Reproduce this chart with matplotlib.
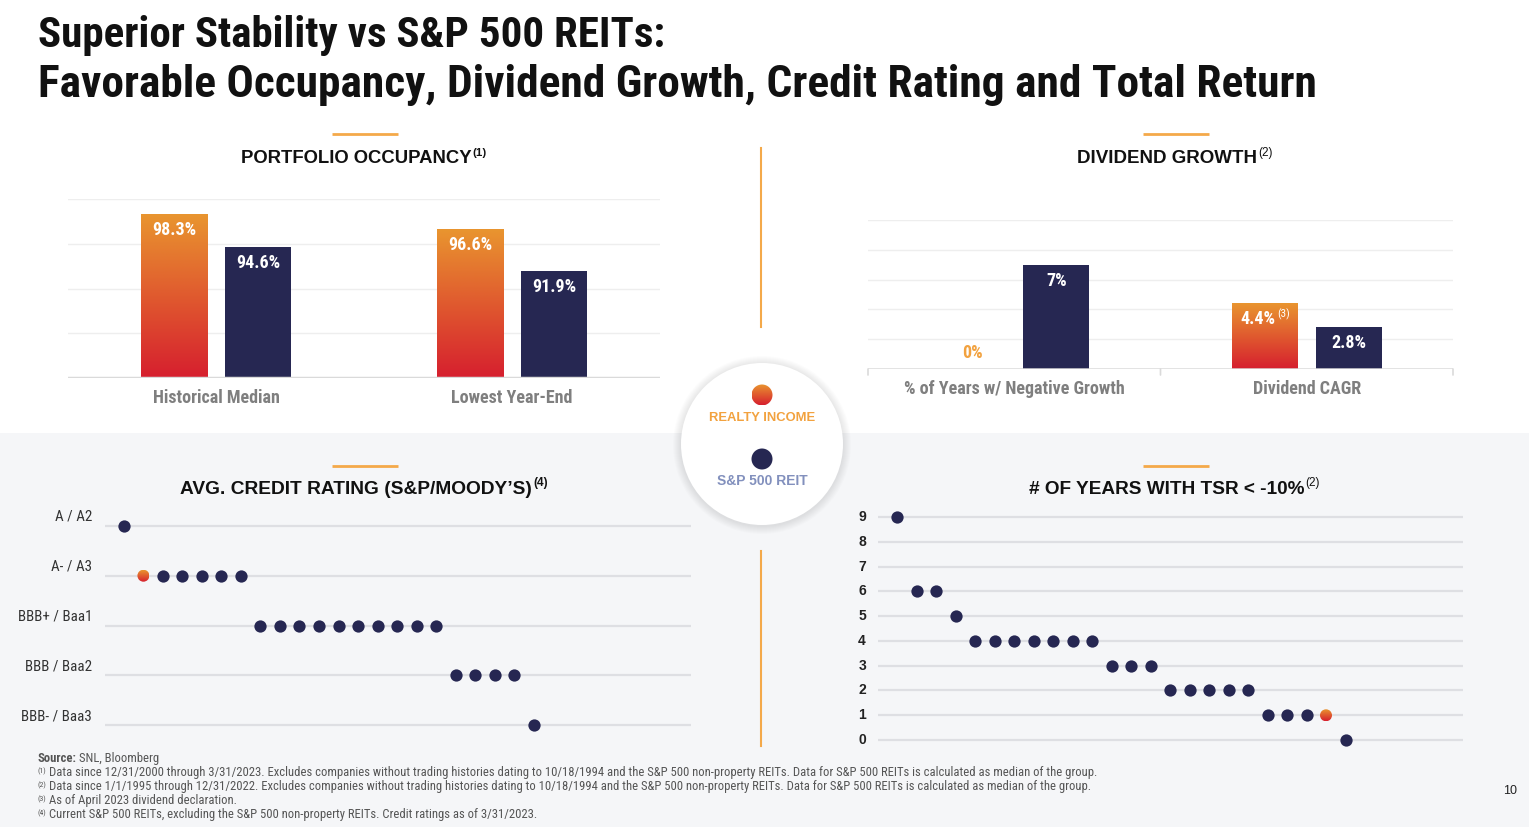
import os
import matplotlib
matplotlib.use("Agg")
import matplotlib.pyplot as plt
from matplotlib import font_manager
from matplotlib.font_manager import FontProperties
from matplotlib.patches import Rectangle, Circle, Ellipse
from matplotlib.colors import LinearSegmentedColormap
import numpy as np

# ---------------- data ----------------
occ_categories = ["Historical Median", "Lowest Year-End"]
occ_realty = [98.3, 96.6]
occ_sp500 = [94.6, 91.9]
occ_ticks = [80, 85, 90, 95, 100]

div_categories = ["% of Years w/ Negative Growth", "Dividend CAGR"]
div_realty = [0.0, 4.4]
div_sp500 = [7.0, 2.8]
div_realty_labels = ["0%", "4.4%"]
div_realty_sups = ["", "(3)"]
div_sp500_labels = ["7%", "2.8%"]
div_ticks = [0, 2, 4, 6, 8, 10]

credit_levels = ["A / A2", "A- / A3", "BBB+ / Baa1", "BBB / Baa2", "BBB- / Baa3"]
credit_rating_idx = [0, 1, 1, 1, 1, 1, 1, 2, 2, 2, 2, 2, 2, 2, 2, 2, 2, 3, 3, 3, 3, 4]
credit_realty_pos = 1

tsr_levels = [0, 1, 2, 3, 4, 5, 6, 7, 8, 9]
tsr_values = [9, 6, 6, 5, 4, 4, 4, 4, 4, 4, 4, 3, 3, 3, 2, 2, 2, 2, 2, 1, 1, 1, 1, 0]
tsr_realty_pos = 22

title_lines = ["Superior Stability vs S&P 500 REITs:",
               "Favorable Occupancy, Dividend Growth, Credit Rating and Total Return"]
footnotes = [
    ("(1)", "Data since 12/31/2000 through 3/31/2023. Excludes companies without trading histories dating to 10/18/1994 and the S&P 500 non-property REITs. Data for S&P 500 REITs is calculated as median of the group."),
    ("(2)", "Data since 1/1/1995 through 12/31/2022. Excludes companies without trading histories dating to 10/18/1994 and the S&P 500 non-property REITs. Data for S&P 500 REITs is calculated as median of the group."),
    ("(3)", "As of April 2023 dividend declaration."),
    ("(4)", "Current S&P 500 REITs, excluding the S&P 500 non-property REITs. Credit ratings as of 3/31/2023."),
]

# ---------------- style ----------------
NAVY = "#262752"
ORANGE_TXT = "#F2A23F"
LINE_OR = "#F4A94A"
BG_GRAY = "#F5F6F8"
GRID = "#EEEEEE"
BASE = "#DADADA"
grad_cmap = LinearSegmentedColormap.from_list("ri", ["#D61F2E", "#E05A2F", "#E9952F"])
GRAD = np.linspace(0, 1, 256).reshape(-1, 1)

# ---------------- fonts ----------------
def find_condensed(bold):
    best, best_score = None, -1
    fam_pref = [("roboto", 6), ("liberationsans", 5), ("notosans", 4), ("dejavusans", 3), ("opensans", 2)]
    for f in font_manager.fontManager.ttflist:
        b = os.path.basename(f.fname).lower()
        if not ("condensed" in b or "narrow" in b):
            continue
        if any(k in b for k in ("italic", "oblique", "mono", "serif", "cjk", "extracondensed",
                                "semicondensed", "ultracondensed")):
            continue
        stem = b.rsplit(".", 1)[0]
        heavy = ("semibold", "extrabold", "demibold", "ultrabold")
        others = ("light", "thin", "medium", "black", "heavy") + heavy
        if bold:
            ok = "bold" in stem and not any(k in stem for k in heavy)
        else:
            ok = ("bold" not in stem) and not any(k in stem for k in others)
        if not ok:
            continue
        score = 1
        for key, sc in fam_pref:
            if b.startswith(key):
                score = sc
                break
        if "display" in b or "ui" in b:
            score -= 0.5
        if score > best_score:
            best, best_score = f, score
    if best is None:
        return FontProperties(family="DejaVu Sans", weight="bold" if bold else "normal")
    return FontProperties(fname=best.fname)

names = {f.name for f in font_manager.fontManager.ttflist}
WIDE = "Liberation Sans" if "Liberation Sans" in names else "DejaVu Sans"
FP_NB = find_condensed(True)     # narrow bold
FP_NR = find_condensed(False)    # narrow regular
FP_WB = FontProperties(family=WIDE, weight="bold")
FP_WR = FontProperties(family=WIDE, weight="normal")

W, H = 1529, 827
fig = plt.figure(figsize=(W / 100, H / 100), dpi=100, facecolor="white")
renderer = fig.canvas.get_renderer()

def ax_px(x0, y0, x1, y1, **kw):
    return fig.add_axes([x0 / W, 1 - y1 / H, (x1 - x0) / W, (y1 - y0) / H], **kw)

# background axes in pixel coordinates (y downwards)
bg = fig.add_axes([0, 0, 1, 1], zorder=-10)
bg.set_xlim(0, W); bg.set_ylim(H, 0); bg.axis("off")
bg.add_patch(Rectangle((0, 433), W, H - 433, facecolor=BG_GRAY, edgecolor="none", zorder=0))

def txt(x, y, s, fp, size=10, width=None, **kw):
    kw.setdefault("ha", "left"); kw.setdefault("va", "baseline")
    t = bg.text(x, y, s, fontproperties=fp, fontsize=size, **kw)
    if width:
        w = t.get_window_extent(renderer).width
        t.set_fontsize(size * width / w)
    return t

def right_edge(t):
    return t.get_window_extent(renderer).x1

def title_with_sup(x, y, main, sup, width, sup_bold=True):
    t = txt(x, y, main, FP_WB, size=13, width=width, color="#111111")
    fs = t.get_fontsize()
    txt(right_edge(t) + 1, y - fs * 0.55, sup, FP_WB if sup_bold else FP_WR, size=fs * 0.62,
        color="#111111")

# main title
txt(38, 47, title_lines[0], FP_NB, size=30, width=627, color="#111111")
txt(38, 97, title_lines[1], FP_NB, size=30, width=1278, color="#111111")

# orange accents and dividers
for (xa, xb, yy) in [(332, 398, 134), (1143, 1209, 134), (332, 398, 466), (1143, 1209, 466)]:
    bg.plot([xa, xb], [yy, yy], color=LINE_OR, lw=2, solid_capstyle="butt")
bg.plot([761, 761], [148, 327], color=LINE_OR, lw=1.5)
bg.plot([761, 761], [551, 746], color=LINE_OR, lw=1.5)

# section titles
title_with_sup(241, 163, "PORTFOLIO OCCUPANCY", "(1)", 230)
title_with_sup(1077, 163, "DIVIDEND GROWTH", "(2)", 180, sup_bold=False)
title_with_sup(180, 494, "AVG. CREDIT RATING (S&P/MOODY\u2019S)", "(4)", 352)
title_with_sup(1029, 494, "# OF YEARS WITH TSR < -10%", "(2)", 276, sup_bold=False)

# legend circle with soft shadow
cx, cy, cr = 762, 444, 81
for k in range(1, 9):
    bg.add_patch(Circle((cx, cy + 1), cr + k, facecolor="#000000", alpha=0.010, edgecolor="none", zorder=1))
bg.add_patch(Circle((cx, cy), cr, facecolor="white", edgecolor="none", zorder=2))

def bg_grad_dot(x, y, r):
    c = Circle((x, y), r, facecolor="none", edgecolor="none", zorder=3)
    bg.add_patch(c)
    im = bg.imshow(GRAD, extent=[x - r, x + r, y + r, y - r], origin="lower", cmap=grad_cmap,
                   aspect="auto", zorder=3, interpolation="bicubic")
    im.set_clip_path(c)

bg_grad_dot(762, 395, 10.5)
bg.add_patch(Circle((762, 459), 10.5, facecolor=NAVY, edgecolor="none", zorder=3))
txt(762, 418, "REALTY INCOME", FP_WB, size=10, width=106, color=ORANGE_TXT, ha="center", va="center", zorder=4)
txt(762, 481, "S&P 500 REIT", FP_WB, size=10, width=91, color="#8290BD", ha="center", va="center", zorder=4)
bg.set_xlim(0, W); bg.set_ylim(H, 0)

# footnotes
fn_color = "#555555"
fn_size = None
for i, (mark, line) in enumerate(footnotes):
    yb = 776 + 14 * i
    if fn_size is None:
        tt = txt(49, yb, line, FP_NR, size=8, width=1044, color=fn_color)
        fn_size = tt.get_fontsize()
    else:
        txt(49, yb, line, FP_NR, size=fn_size, color=fn_color)
    txt(37, yb - 3, mark, FP_NR, size=fn_size * 0.62, color=fn_color)
t = txt(37, 762, "Source:", FP_NB, size=fn_size, color=fn_color)
txt(right_edge(t) + 3, 762, "SNL, Bloomberg", FP_NR, size=fn_size, color=fn_color)
txt(1510, 791, "10", FP_WR, size=9, color="#222222", ha="center", va="center")

# ---------------- helpers for charts ----------------
def clean(ax):
    ax.set_facecolor("none")
    for s in ax.spines.values():
        s.set_visible(False)
    ax.tick_params(length=0, labelleft=False, labelbottom=False)

def grad_bar(ax, x, bottom, top, w):
    if top <= bottom:
        return
    r = Rectangle((x - w / 2, bottom), w, top - bottom, facecolor="none", edgecolor="none")
    ax.add_patch(r)
    im = ax.imshow(GRAD, extent=[x - w / 2, x + w / 2, bottom, top], origin="lower", cmap=grad_cmap,
                   aspect="auto", zorder=3, interpolation="bicubic")
    im.set_clip_path(r)

def value_label(ax, x, y, s, sup="", color="white", dy=-16, size=13):
    t = ax.annotate(s, (x, y), xytext=(0, dy), textcoords="offset pixels", ha="left", va="center",
                    fontproperties=FP_NB, fontsize=size, color=color, zorder=5)
    wm = t.get_window_extent(renderer).width
    ws = 0
    ts = None
    if sup:
        ts = ax.annotate(sup, (x, y), xytext=(0, dy + 5), textcoords="offset pixels", ha="left",
                         va="center", fontproperties=FP_NR, fontsize=size * 0.62, color=color, zorder=5)
        ws = ts.get_window_extent(renderer).width
    left = -(wm + ws) / 2
    t.xyann = (left, dy)
    if ts is not None:
        ts.xyann = (left + wm + 1, dy + 5)

def cat_labels(ax, cats, dy=-20):
    for i, c in enumerate(cats):
        ax.annotate(c, (i, 0), xycoords=("data", "axes fraction"), xytext=(0, dy),
                    textcoords="offset pixels", ha="center", va="center", fontproperties=FP_NB,
                    fontsize=13, color="#7F7F7F", annotation_clip=False)

# ---------------- Portfolio occupancy ----------------
ax1 = ax_px(68, 199, 660, 378)
clean(ax1)
off, bw = 0.142, 0.223
base1 = occ_ticks[0]
for yv in occ_ticks[1:]:
    ax1.axhline(yv, color=GRID, lw=1, zorder=1)
ax1.axhline(base1, color=BASE, lw=2.5, zorder=4)
for i in range(len(occ_categories)):
    grad_bar(ax1, i - off, base1, occ_realty[i], bw)
    ax1.bar(i + off, occ_sp500[i] - base1, bw, bottom=base1, color=NAVY, zorder=3)
ax1.set_xlim(-0.5, 1.5)
ax1.set_ylim(base1, occ_ticks[-1])
for i in range(len(occ_categories)):
    value_label(ax1, i - off, occ_realty[i], f"{occ_realty[i]}%")
    value_label(ax1, i + off, occ_sp500[i], f"{occ_sp500[i]}%")
cat_labels(ax1, occ_categories)

# ---------------- Dividend growth ----------------
ax2 = ax_px(868, 220, 1453, 369)
clean(ax2)
off2, bw2 = 0.1436, 0.2256
for yv in div_ticks[1:]:
    ax2.axhline(yv, color=GRID, lw=1, zorder=1)
ax2.axhline(div_ticks[0], color=BASE, lw=1.8, zorder=4)
for xt in [-0.5, 0.5, 1.5]:
    ax2.annotate("", xy=(xt, 0), xycoords=("data", "axes fraction"), xytext=(0, -6),
                 textcoords="offset pixels", annotation_clip=False,
                 arrowprops=dict(arrowstyle="-", color=BASE, lw=1.2, shrinkA=0, shrinkB=0))
for i in range(len(div_categories)):
    grad_bar(ax2, i - off2, 0, div_realty[i], bw2)
    ax2.bar(i + off2, div_sp500[i], bw2, color=NAVY, zorder=3)
ax2.set_xlim(-0.5, 1.5)
ax2.set_ylim(div_ticks[0], div_ticks[-1])
for i in range(len(div_categories)):
    if div_realty[i] > 0:
        value_label(ax2, i - off2, div_realty[i], div_realty_labels[i], div_realty_sups[i])
    else:
        value_label(ax2, i - off2, div_realty[i], div_realty_labels[i], color=ORANGE_TXT, dy=16)
    value_label(ax2, i + off2, div_sp500[i], div_sp500_labels[i])
cat_labels(ax2, div_categories)

# ---------------- dot plots ----------------
def grad_dot(ax, x, y, r_px):
    bb = ax.get_position()
    x0, x1 = ax.get_xlim(); y0, y1 = ax.get_ylim()
    ux = bb.width * W / (x1 - x0); uy = bb.height * H / (y1 - y0)
    rx, ry = r_px / ux, r_px / uy
    e = Ellipse((x, y), 2 * rx, 2 * ry, facecolor="none", edgecolor="none")
    ax.add_patch(e)
    im = ax.imshow(GRAD, extent=[x - rx, x + rx, y - ry, y + ry], origin="lower", cmap=grad_cmap,
                   aspect="auto", zorder=4, interpolation="bicubic")
    im.set_clip_path(e)
    ax.set_xlim(x0, x1); ax.set_ylim(y0, y1)

# Credit rating
ax3 = ax_px(105, 501, 691, 750)
clean(ax3)
n_lv = len(credit_levels)
ax3.set_xlim(-0.97, 29.07)
ax3.set_ylim(-0.5, n_lv - 0.5)
for j, lab in enumerate(credit_levels):
    yy = n_lv - 1 - j
    ax3.axhline(yy, color="#DEDFE3", lw=1.6, zorder=1)
    ax3.annotate(lab, (0, yy), xycoords=("axes fraction", "data"), xytext=(-13, 9),
                 textcoords="offset pixels", ha="right", va="center", fontproperties=FP_NR,
                 fontsize=10.8, color="#333333", annotation_clip=False)
cx_pos = [k for k in range(len(credit_rating_idx)) if k != credit_realty_pos]
ax3.scatter(cx_pos, [n_lv - 1 - credit_rating_idx[k] for k in cx_pos], s=78, color=NAVY,
            linewidths=0, zorder=3)
grad_dot(ax3, credit_realty_pos, n_lv - 1 - credit_rating_idx[credit_realty_pos], 6)

# TSR
ax4 = ax_px(878, 505, 1463, 752)
clean(ax4)
ax4.set_xlim((878 - 897) / 19.5, (1463 - 897) / 19.5)
ax4.set_ylim(-0.48, 9.48)
for lv in tsr_levels:
    ax4.axhline(lv, color="#DEDFE3", lw=1.6, zorder=1)
    ax4.annotate(str(lv), (0, lv), xycoords=("axes fraction", "data"), xytext=(-12, 0),
                 textcoords="offset pixels", ha="right", va="center", fontproperties=FP_WB,
                 fontsize=10, color="#222222", annotation_clip=False)
tx_pos = [k for k in range(len(tsr_values)) if k != tsr_realty_pos]
ax4.scatter(tx_pos, [tsr_values[k] for k in tx_pos], s=78, color=NAVY, linewidths=0, zorder=3)
grad_dot(ax4, tsr_realty_pos, tsr_values[tsr_realty_pos], 6)

fig.savefig("out.png", dpi=100, facecolor="white")
